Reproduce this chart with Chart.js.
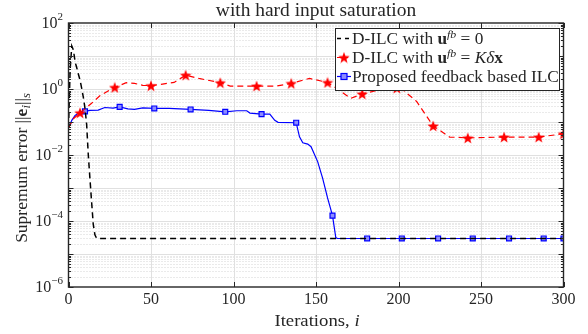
<!DOCTYPE html>
<html><head><meta charset="utf-8">
<script src="https://cdn.jsdelivr.net/npm/chart.js@4.4.0/dist/chart.umd.min.js"></script>
<style>html,body{margin:0;padding:0;background:#fff;}#wrap{width:588px;height:334px;position:relative;}</style>
</head><body><div id="wrap"><canvas id="c" width="588" height="334"></canvas></div>
<script>
// ---------- data ----------
const titleText = 'with hard input saturation';
const xTickValues = [0, 50, 100, 150, 200, 250, 300];
const yTickValues = [1e-6, 1e-4, 1e-2, 1, 100];
const yTickExponents = ['−6', '−4', '−2', '0', '2'];

// D-ILC with u^fb = 0
const dilcIter = [0,1,2,3,4,5,6,7,8,9,10,11,12,13,14,15,16,17,18,300];
const dilcErr = [0.066,4.0,20,15,6.6,4.4,2.8,1.85,1.05,0.56,0.26,0.083,0.01,0.0019,0.00038,0.00008,0.000038,0.0000302,0.0000295,0.0000295];

// D-ILC with u^fb = K dx
const fbIter = [0,3,7,10,14,19,24,28,35,40,45,50,57,64,71,79,92,98,114,126,135,146,157,163,171,178,188,199,202,211,221,231,242,264,285,300];
const fbErr = [0.066,0.126,0.19,0.25,0.37,0.62,0.87,1.12,1.55,1.48,1.29,1.26,1.41,1.58,2.63,2.09,1.55,1.23,1.23,1.23,1.48,2.09,1.58,1.0,0.52,0.71,0.93,1.07,1.0,0.42,0.076,0.035,0.033,0.035,0.035,0.044];
const fbMarkerIter = [7,28,50,71,92,114,135,157,178,199,221,242,264,285,300];

// Proposed feedback based ILC
const propIter = [0,2,4,7,10,13,18,22,27,31,36,40,45,52,61,74,85,95,102,108,110,117,122,125,127,138,140,142,145,147,151,154,157,160,162,163,181,202,224,245,267,288,300];
const propErr = [0.066,0.112,0.158,0.2,0.209,0.224,0.229,0.275,0.263,0.288,0.251,0.24,0.269,0.257,0.257,0.24,0.224,0.204,0.219,0.219,0.186,0.174,0.174,0.112,0.098,0.095,0.0355,0.0234,0.0214,0.0178,0.0063,0.002,0.0005,0.000145,0.0000316,0.0000295,0.0000295,0.0000295,0.0000295,0.0000295,0.0000295,0.0000295,0.0000295];
const propMarkerIter = [10,31,52,74,95,117,138,160,181,202,224,245,267,288,300];

// ---------- helpers ----------
const FONT = '"Liberation Serif", "Times New Roman", serif';
const TXT = '#262626';
let SX = 1.08;

function makeStar(d, color) {
  const c = document.createElement('canvas');
  c.width = d; c.height = d;
  const g = c.getContext('2d');
  const R = d / 2, r = R * 0.42, cx = d / 2, cy = d / 2 + R * 0.1;
  g.beginPath();
  for (let k = 0; k < 10; k++) {
    const rad = k % 2 ? r : R;
    const a = -Math.PI / 2 + k * Math.PI / 5;
    g.lineTo(cx + rad * Math.cos(a), cy + rad * Math.sin(a));
  }
  g.closePath(); g.fillStyle = color; g.fill();
  return c;
}
const starImg = makeStar(12, '#ff0000');

function fontOf(kind, size) {
  const s = size || 16;
  if (kind === 'b') return 'bold ' + s + 'px ' + FONT;
  if (kind === 'i') return 'italic ' + s + 'px ' + FONT;
  return s + 'px ' + FONT;
}
function drawRich(ctx, segs, x, y, align, sx) {
  const k = sx || SX;
  let total = 0;
  segs.forEach(s => { ctx.font = fontOf(s.k, s.s); s.w = ctx.measureText(s.t).width * k; total += s.w; });
  let cx = align === 'center' ? x - total / 2 : (align === 'right' ? x - total : x);
  ctx.textBaseline = 'alphabetic';
  ctx.textAlign = 'left';
  segs.forEach(s => {
    ctx.save();
    ctx.font = fontOf(s.k, s.s);
    ctx.translate(cx, y + (s.dy || 0));
    ctx.scale(k, 1);
    ctx.fillText(s.t, 0, 0);
    ctx.restore();
    cx += s.w;
  });
  return total;
}
const toPts = (xs, ys) => xs.map((x, i) => ({ x: x, y: ys[i] }));

// ---------- decoration plugin ----------
const deco = {
  id: 'deco',
  beforeDatasetsDraw(chart) {
    const ctx = chart.ctx, a = chart.chartArea;
    const xs = chart.scales.x, ys = chart.scales.y;
    ctx.save();
    ctx.strokeStyle = '#d4d4d4'; ctx.lineWidth = 1; ctx.setLineDash([1, 2]);
    for (let e = -6; e < 2; e++) {
      for (let m = 2; m <= 9; m++) {
        const y = Math.round(ys.getPixelForValue(m * Math.pow(10, e))) + 0.5;
        ctx.beginPath(); ctx.moveTo(a.left, y); ctx.lineTo(a.right, y); ctx.stroke();
      }
    }
    ctx.setLineDash([]);
    ctx.strokeStyle = '#e0e0e0';
    for (let e = -5; e < 2; e++) {
      const y = Math.round(ys.getPixelForValue(Math.pow(10, e))) + 0.5;
      ctx.beginPath(); ctx.moveTo(a.left, y); ctx.lineTo(a.right, y); ctx.stroke();
    }
    xTickValues.forEach(v => {
      if (v === 0 || v === 300) return;
      const x = Math.round(xs.getPixelForValue(v)) + 0.5;
      ctx.beginPath(); ctx.moveTo(x, a.top); ctx.lineTo(x, a.bottom); ctx.stroke();
    });
    ctx.restore();
  },
  afterDraw(chart) {
    const ctx = chart.ctx, a = chart.chartArea;
    const xs = chart.scales.x, ys = chart.scales.y;
    ctx.save();
    ctx.strokeStyle = TXT; ctx.lineWidth = 1.4;
    ctx.strokeRect(a.left, a.top, a.right - a.left, a.bottom - a.top);
    ctx.lineWidth = 1;
    xTickValues.forEach(v => {
      const x = Math.round(xs.getPixelForValue(v)) + 0.5;
      ctx.beginPath(); ctx.moveTo(x, a.bottom); ctx.lineTo(x, a.bottom - 5);
      ctx.moveTo(x, a.top); ctx.lineTo(x, a.top + 5); ctx.stroke();
    });
    for (let e = -6; e <= 2; e++) {
      for (let m = 1; m <= 9; m++) {
        if (e === 2 && m > 1) break;
        const y = Math.round(ys.getPixelForValue(m * Math.pow(10, e))) + 0.5;
        const len = (m === 1) ? 5 : 2.5;
        ctx.beginPath(); ctx.moveTo(a.left, y); ctx.lineTo(a.left + len, y);
        ctx.moveTo(a.right, y); ctx.lineTo(a.right - len, y); ctx.stroke();
      }
    }
    ctx.fillStyle = TXT;
    yTickValues.forEach((v, i) => {
      const y = ys.getPixelForValue(v);
      ctx.font = fontOf('', 11);
      const supW = ctx.measureText(yTickExponents[i]).width;
      const right = 63;
      ctx.font = fontOf('', 16);
      ctx.textAlign = 'right'; ctx.textBaseline = 'middle';
      ctx.fillText('10', right - supW, y + 1);
      ctx.font = fontOf('', 11);
      ctx.textAlign = 'left';
      ctx.fillText(yTickExponents[i], right - supW, y - 6);
    });
    drawRich(ctx, [{ t: titleText, s: 18 }], (a.left + a.right) / 2, 16, 'center', 1.08);
    drawRich(ctx, [{ t: 'Iterations, ', s: 17 }, { t: 'i', k: 'i', s: 17 }], (a.left + a.right) / 2 + 1, 326, 'center', 1.1);
    ctx.save();
    ctx.translate(27, 168);
    ctx.rotate(-Math.PI / 2);
    drawRich(ctx, [{ t: 'Supremum error ', s: 16.5 }, { t: '||', s: 16.5 }, { t: 'e', k: 'b', s: 16.5 }, { t: 'i', k: 'i', s: 12, dy: 3 }, { t: '||', s: 16.5 }, { t: 's', k: 'i', s: 12, dy: 3 }], 0, 0, 'center', 1.06);
    ctx.restore();
    // legend
    const L = { x: 335.5, y: 28.5, w: 224, h: 62 };
    ctx.fillStyle = '#fff'; ctx.fillRect(L.x, L.y, L.w, L.h);
    ctx.strokeStyle = '#262626'; ctx.lineWidth = 1; ctx.strokeRect(L.x, L.y, L.w, L.h);
    const rows = [38.5, 57.5, 76.5];
    const sx1 = 337, sx2 = 351, smid = 344;
    ctx.strokeStyle = '#000'; ctx.lineWidth = 1.5; ctx.setLineDash([4, 4]);
    ctx.beginPath(); ctx.moveTo(sx1, rows[0]); ctx.lineTo(sx2, rows[0]); ctx.stroke();
    ctx.strokeStyle = '#ff0000'; ctx.lineWidth = 1.2; ctx.setLineDash([4, 3]);
    ctx.beginPath(); ctx.moveTo(sx1, rows[1]); ctx.lineTo(sx2, rows[1]); ctx.stroke();
    ctx.setLineDash([]);
    ctx.drawImage(starImg, smid - starImg.width / 2, rows[1] - starImg.height / 2);
    ctx.strokeStyle = '#0000ff'; ctx.lineWidth = 1.2;
    ctx.beginPath(); ctx.moveTo(sx1, rows[2]); ctx.lineTo(sx2, rows[2]); ctx.stroke();
    ctx.fillStyle = '#8c8cff'; ctx.fillRect(smid - 3, rows[2] - 3, 6, 6);
    ctx.strokeRect(smid - 3, rows[2] - 3, 6, 6);
    ctx.fillStyle = TXT;
    const tx = 352, off = 5.5;
    drawRich(ctx, [{ t: 'D-ILC with ' }, { t: 'u', k: 'b' }, { t: 'fb', k: 'i', s: 11, dy: -6 }, { t: ' = 0' }], tx, rows[0] + off, 'left');
    drawRich(ctx, [{ t: 'D-ILC with ' }, { t: 'u', k: 'b' }, { t: 'fb', k: 'i', s: 11, dy: -6 }, { t: ' = ' }, { t: 'Kδ', k: 'i' }, { t: 'x', k: 'b' }], tx, rows[1] + off, 'left');
    drawRich(ctx, [{ t: 'Proposed feedback based ILC' }], tx, rows[2] + off, 'left');
    ctx.restore();
  }
};

// ---------- chart ----------
new Chart(document.getElementById('c'), {
  type: 'line',
  data: {
    datasets: [
      {
        label: 'D-ILC with u^fb = 0',
        data: toPts(dilcIter, dilcErr),
        borderColor: '#000000', borderWidth: 1.5, borderDash: [6, 4],
        pointRadius: 0, fill: false, tension: 0
      },
      {
        label: 'D-ILC with u^fb = K δx',
        data: toPts(fbIter, fbErr),
        borderColor: '#ff0000', borderWidth: 1.2, borderDash: [6, 4],
        pointStyle: starImg,
        pointRadius: c => (c.raw && fbMarkerIter.includes(c.raw.x)) ? 5 : 0,
        fill: false, tension: 0
      },
      {
        label: 'Proposed feedback based ILC',
        data: toPts(propIter, propErr),
        borderColor: '#0000ff', borderWidth: 1.2,
        pointStyle: 'rect', pointBackgroundColor: '#8c8cff', pointBorderColor: '#0000ff', pointBorderWidth: 1.2,
        pointRadius: c => (c.raw && propMarkerIter.includes(c.raw.x)) ? 3.5 : 0,
        fill: false, tension: 0
      }
    ]
  },
  options: {
    responsive: false, animation: false, devicePixelRatio: 1,
    layout: { padding: { left: 0, right: 24.5, top: 23, bottom: 0 } },
    plugins: { legend: { display: false }, tooltip: { enabled: false } },
    scales: {
      x: {
        type: 'linear', min: 0, max: 300,
        afterBuildTicks: s => { s.ticks = xTickValues.map(v => ({ value: v })); },
        afterFit: s => { s.height = 47; },
        ticks: { font: { family: FONT, size: 16 }, color: TXT, padding: 3, maxRotation: 0, autoSkip: false },
        grid: { display: false, drawTicks: false }, border: { display: false }
      },
      y: {
        type: 'logarithmic', min: 1e-6, max: 100,
        afterBuildTicks: s => { s.ticks = yTickValues.map(v => ({ value: v })); },
        afterFit: s => { s.width = 68.5; },
        ticks: { display: false },
        grid: { display: false, drawTicks: false }, border: { display: false }
      }
    }
  },
  plugins: [deco]
});
</script>
</body></html>
